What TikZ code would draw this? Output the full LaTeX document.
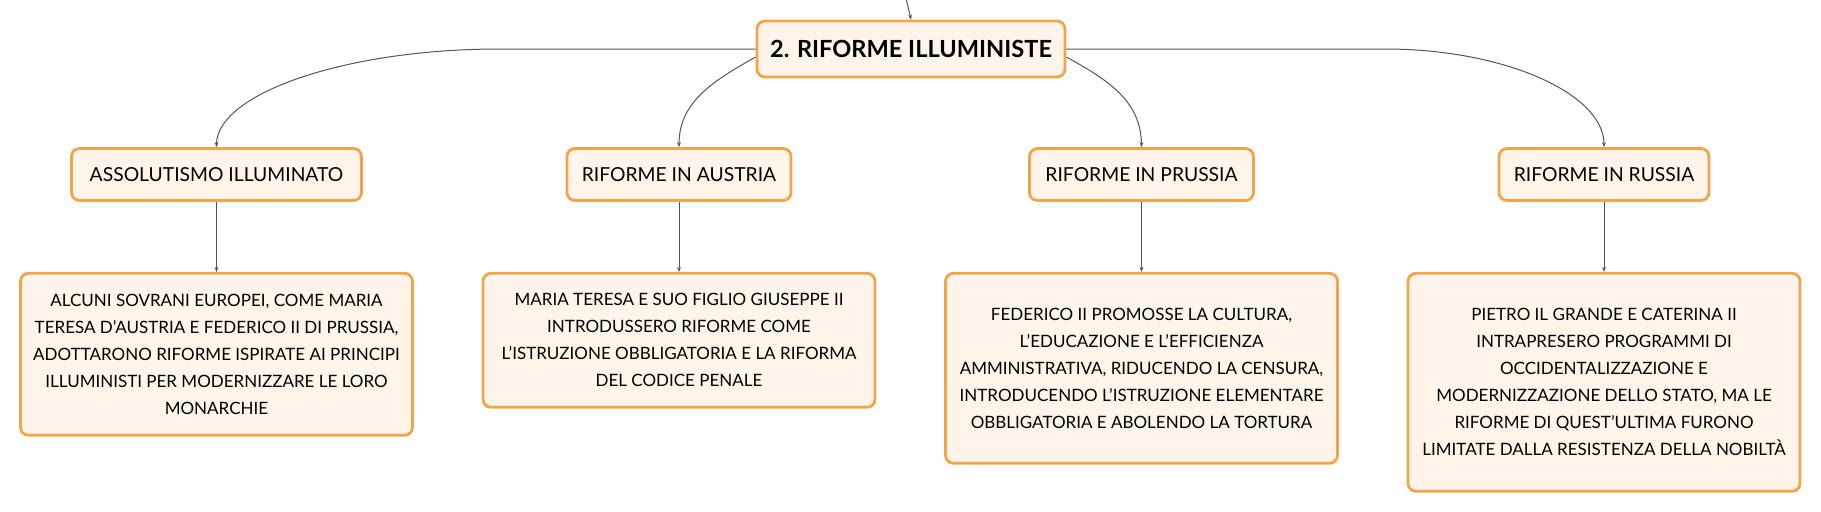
\documentclass[tikz,border=0pt]{standalone}
\usepackage{fontspec}
\setmainfont{Lato}
\usepackage[HTML]{xcolor}
\usetikzlibrary{positioning, arrows, arrows.meta}

\definecolor{boxline}{HTML}{F4A448}
\definecolor{boxfill}{HTML}{FEF4EA}
\definecolor{linkline}{HTML}{555555}

\begin{document}
\begin{tikzpicture}[
    x=0.5pt, y=-0.5pt,
    node distance=35pt,
    >={Stealth[length=2.5pt,width=2pt]},
    every node/.style={font=\normalsize},
    mapbox/.style={draw=boxline, fill=boxfill, line width=1.4pt, rounded corners=4pt, inner sep=0pt},
    rootbox/.style={mapbox, minimum width=154pt, minimum height=28pt, font=\fontsize{11.8}{13}\selectfont\bfseries},
    topicbox/.style={mapbox, minimum height=26pt, font=\fontsize{9.65}{11}\selectfont},
    textbox/.style={mapbox, minimum width=196pt, align=center, font=\fontsize{8.5}{13.5}\selectfont},
    link/.style={draw=linkline, line width=0.5pt, ->}
]
    \useasboundingbox (0,0) rectangle (1821,511);

    % Define nodes
    \coordinate (up) at (906,-2);
    \node[rootbox] (root) at (911,49) {2. RIFORME ILLUMINISTE};

    \node[topicbox, minimum width=145pt] (asso) at (216.5,174.5) {ASSOLUTISMO ILLUMINATO};
    \node[topicbox, minimum width=112pt] (austria) at (679,174.5) {RIFORME IN AUSTRIA};
    \node[topicbox, minimum width=112pt] (prussia) at (1141.5,174.5) {RIFORME IN PRUSSIA};
    \node[topicbox, minimum width=105pt] (russia) at (1604,174.5) {RIFORME IN RUSSIA};

    \node[textbox, minimum height=81pt, below=of asso] (assotext) {ALCUNI SOVRANI EUROPEI, COME MARIA\\TERESA D'AUSTRIA E FEDERICO II DI PRUSSIA,\\ADOTTARONO RIFORME ISPIRATE AI PRINCIPI\\ILLUMINISTI PER MODERNIZZARE LE LORO\\MONARCHIE};
    \node[textbox, minimum height=67pt, below=of austria] (austriatext) {MARIA TERESA E SUO FIGLIO GIUSEPPE II\\INTRODUSSERO RIFORME COME\\L'ISTRUZIONE OBBLIGATORIA E LA RIFORMA\\DEL CODICE PENALE};
    \node[textbox, minimum height=95pt, below=of prussia] (prussiatext) {FEDERICO II PROMOSSE LA CULTURA,\\L'EDUCAZIONE E L'EFFICIENZA\\AMMINISTRATIVA, RIDUCENDO LA CENSURA,\\INTRODUCENDO L'ISTRUZIONE ELEMENTARE\\OBBLIGATORIA E ABOLENDO LA TORTURA};
    \node[textbox, minimum height=109pt, below=of russia] (russiatext) {PIETRO IL GRANDE E CATERINA II\\INTRAPRESERO PROGRAMMI DI\\OCCIDENTALIZZAZIONE E\\MODERNIZZAZIONE DELLO STATO, MA LE\\RIFORME DI QUEST'ULTIMA FURONO\\LIMITATE DALLA RESISTENZA DELLA NOBILTÀ};

    % Draw arrows
    \draw[link] (up) -- (root.north);
    \draw[link] (root.west) -- (500,49) .. controls (344,49) and (217,94) .. (asso.north);
    \draw[link] ([yshift=-4pt]root.west) .. controls (715,80) and (679,101) .. (austria.north);
    \draw[link] ([yshift=-4pt]root.east) .. controls (1108,80) and (1141,101) .. (prussia.north);
    \draw[link] (root.east) -- (1385,49) .. controls (1505,49) and (1604,94) .. (russia.north);

    \draw[link] (asso) -- (assotext);
    \draw[link] (austria) -- (austriatext);
    \draw[link] (prussia) -- (prussiatext);
    \draw[link] (russia) -- (russiatext);
\end{tikzpicture}
\end{document}
